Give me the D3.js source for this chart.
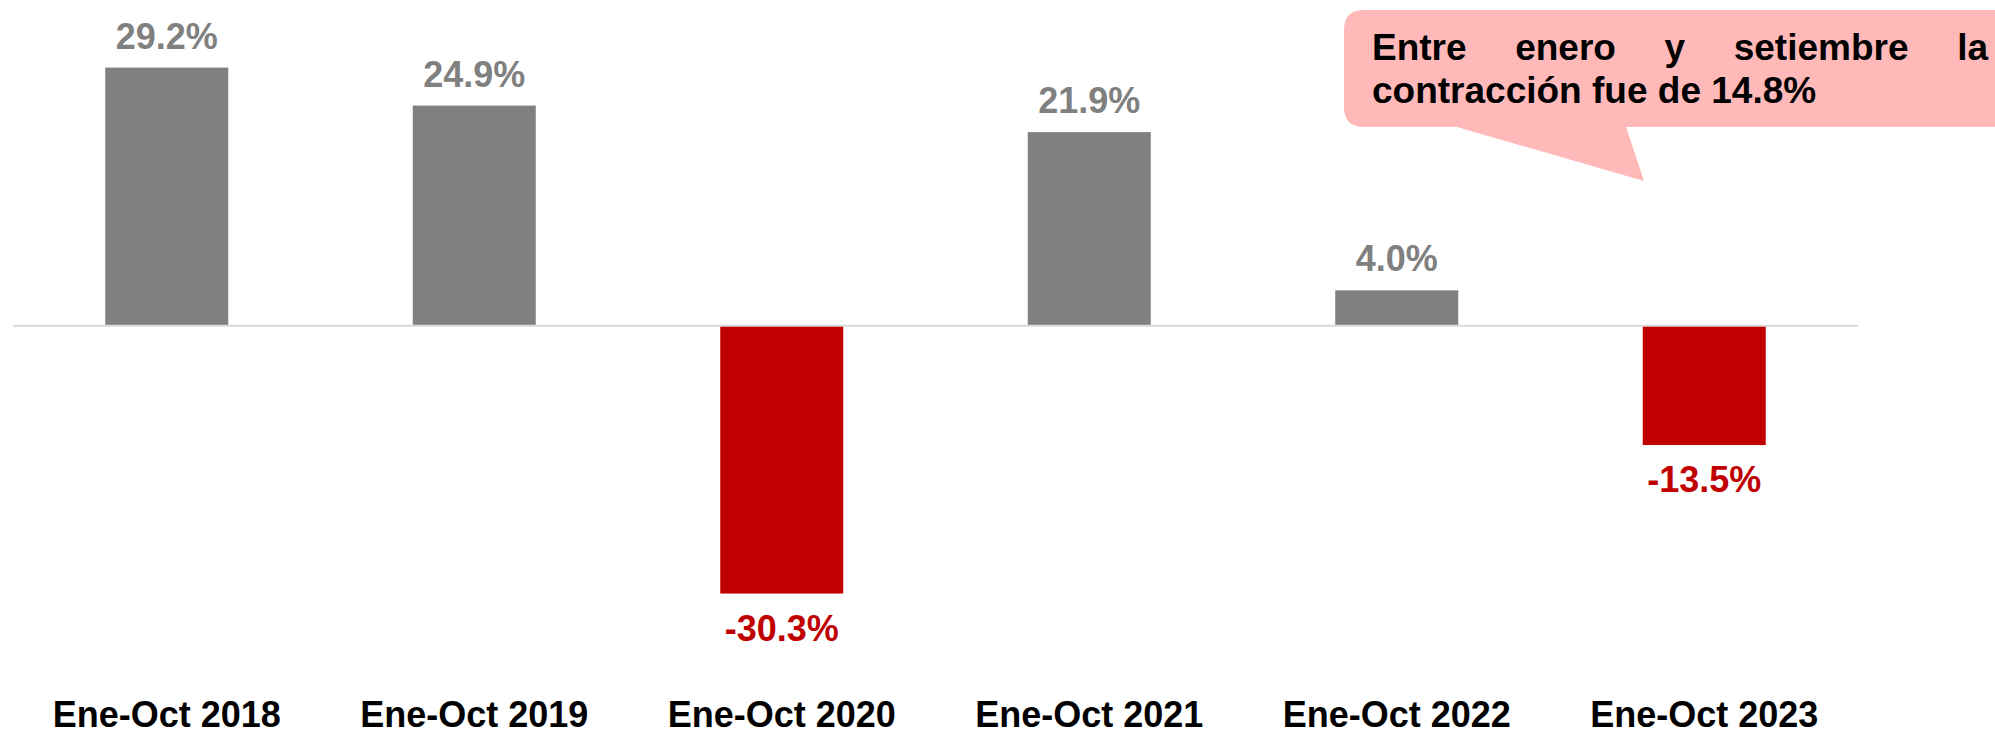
<!DOCTYPE html>
<html>
<head>
    <style>
        body { margin: 0; background: #fff; }
        svg text { font-family: "Liberation Sans", Arial, sans-serif; font-weight: bold; }
        .value { font-size: 36px; text-anchor: middle; }
        .cat { font-size: 36px; text-anchor: middle; fill: #000; }
        .note { font-size: 37px; fill: #000; }
    </style>
    <script src="https://d3js.org/d3.v7.min.js"></script>
</head>
<body>
    <svg width="1995" height="735"></svg>
    <script>

        var categories = ["Ene-Oct 2018", "Ene-Oct 2019", "Ene-Oct 2020", "Ene-Oct 2021", "Ene-Oct 2022", "Ene-Oct 2023"];
        var values = [29.2, 24.9, -30.3, 21.9, 4.0, -13.5];
        var noteLines = [["Entre", "enero", "y", "setiembre", "la"], ["contracción fue de 14.8%"]];

        var grey = "#808080",
            red = "#c00000";

        var svg = d3.select("svg");

        var x = d3.scaleBand()
                  .domain(categories)
                  .range([13, 1858])
                  .paddingInner(0.6)
                  .paddingOuter(0.3);

        var y = d3.scaleLinear()
                  .domain([-35, 35])
                  .range([325.7 + 35 * 8.84, 325.7 - 35 * 8.84]);

        var data = categories.map(function(c, i) { return { cat: c, value: values[i] }; });

        // bars
        svg.selectAll(".bar")
           .data(data)
           .enter().append("rect")
           .attr("class", "bar")
           .attr("x", function(d) { return x(d.cat); })
           .attr("width", x.bandwidth())
           .attr("y", function(d) { return y(Math.max(0, d.value)); })
           .attr("height", function(d) { return Math.abs(y(d.value) - y(0)); })
           .attr("fill", function(d) { return d.value < 0 ? red : grey; });

        // zero line
        svg.append("line")
           .attr("x1", x.range()[0])
           .attr("x2", x.range()[1])
           .attr("y1", y(0))
           .attr("y2", y(0))
           .attr("stroke", "#d9d9d9")
           .attr("stroke-width", 2);

        // value labels
        svg.selectAll(".value")
           .data(data)
           .enter().append("text")
           .attr("class", "value")
           .attr("x", function(d) { return x(d.cat) + x.bandwidth() / 2; })
           .attr("y", function(d) { return d.value < 0 ? y(d.value) + 47 : y(d.value) - 19; })
           .attr("fill", function(d) { return d.value < 0 ? red : grey; })
           .text(function(d) { return d.value.toFixed(1) + "%"; });

        // category labels
        var xAxis = svg.append("g");
        xAxis.selectAll(".cat")
             .data(categories)
             .enter().append("text")
             .attr("class", "cat")
             .attr("x", function(d) { return x(d) + x.bandwidth() / 2; })
             .attr("y", 727)
             .text(function(d) { return d; });

        // callout bubble
        var bx = 1344, by = 10, bb = 127, r = 20, right = 2010;
        var bubble = d3.path();
        bubble.moveTo(bx + r, by);
        bubble.lineTo(right, by);
        bubble.lineTo(right, bb);
        bubble.lineTo(1626, bb);
        bubble.lineTo(1644, 181);
        bubble.lineTo(1457, bb);
        bubble.lineTo(bx + r, bb);
        bubble.quadraticCurveTo(bx, bb, bx, bb - r);
        bubble.lineTo(bx, by + r);
        bubble.quadraticCurveTo(bx, by, bx + r, by);
        bubble.closePath();

        svg.append("path")
           .attr("d", bubble.toString())
           .attr("fill", "#ffb9b9");

        // first line justified between left and right edges
        var left = 1372, lineEnd = 1988;
        var words = svg.selectAll(".w")
                       .data(noteLines[0])
                       .enter().append("text")
                       .attr("class", "note")
                       .attr("y", 60)
                       .text(function(d) { return d; });
        var widths = [];
        words.each(function() { widths.push(this.getComputedTextLength()); });
        var gap = (lineEnd - left - d3.sum(widths)) / (widths.length - 1);
        var pos = left;
        words.attr("x", function(d, i) {
            var p = pos;
            pos += widths[i] + gap;
            return p;
        });

        svg.append("text")
           .attr("class", "note")
           .attr("x", left)
           .attr("y", 103)
           .text(noteLines[1][0]);
    </script>
</body>
</html>
